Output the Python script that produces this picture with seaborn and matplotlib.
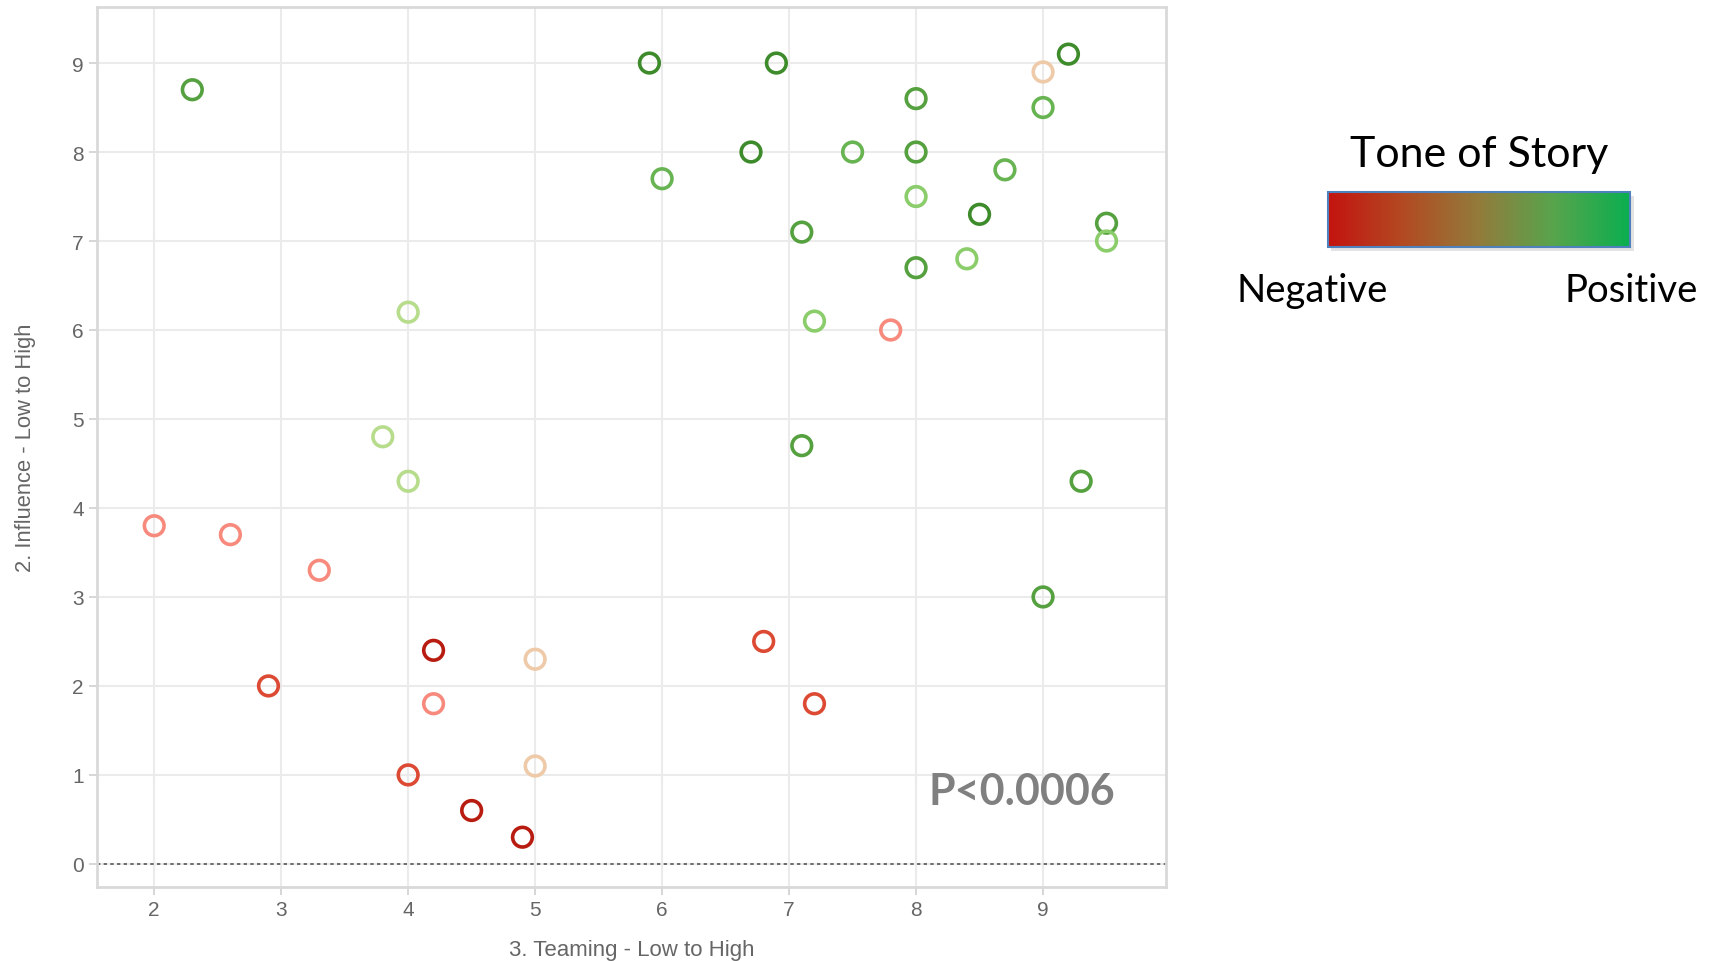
import numpy as np
import pandas as pd
import matplotlib
matplotlib.use("Agg")
import matplotlib.pyplot as plt
import seaborn as sns
from matplotlib.colors import LinearSegmentedColormap
from matplotlib.cm import ScalarMappable
from matplotlib.colors import Normalize

# ---- data ----
teaming = [2.3, 5.9, 6.9, 9.2, 9.0, 8.0, 9.0, 6.7, 7.5, 8.0,
           6.0, 8.7, 8.0, 8.5, 9.5, 9.5, 7.1, 8.0, 8.4, 4.0,
           7.2, 7.8, 3.8, 7.1, 4.0, 9.3, 2.0, 2.6, 3.3, 9.0,
           4.2, 5.0, 6.8, 2.9, 4.2, 7.2, 4.0, 5.0, 4.5, 4.9]
influence = [8.7, 9.0, 9.0, 9.1, 8.9, 8.6, 8.5, 8.0, 8.0, 8.0,
             7.7, 7.8, 7.5, 7.3, 7.2, 7.0, 7.1, 6.7, 6.8, 6.2,
             6.1, 6.0, 4.8, 4.7, 4.3, 4.3, 3.8, 3.7, 3.3, 3.0,
             2.4, 2.3, 2.5, 2.0, 1.8, 1.8, 1.0, 1.1, 0.6, 0.3]
tone = [4, 5, 5, 5, -1, 4, 3, 5, 3, 4,
        3, 3, 2, 5, 4, 2, 4, 4, 2, 1,
        2, -2, 1, 4, 1, 4, -2, -2, -2, 4,
        -4, -1, -3, -3, -2, -3, -3, -1, -4, -4]

tone_levels = [-4, -3, -2, -1, 1, 2, 3, 4, 5]
tone_colors = ["#b81c10", "#dc4a34", "#f78a7c", "#eecaa8", "#b6dc8c",
               "#8acd6a", "#68b452", "#55a03f", "#3e8b2b"]

x_ticks = [2, 3, 4, 5, 6, 7, 8, 9]
y_ticks = [0, 1, 2, 3, 4, 5, 6, 7, 8, 9]

df = pd.DataFrame({"teaming": teaming, "influence": influence, "tone": tone})

sns.set_theme(style="white")
plt.rcParams["font.family"] = ["Liberation Sans", "DejaVu Sans"]

fig = plt.figure(figsize=(17.15, 9.62), dpi=100)
ax = fig.add_axes([0.0566, 0.0769, 0.6234, 0.9148])

ax.axhline(0, color="#555555", linestyle=(0, (2, 2)), linewidth=1.2, zorder=1)

sns.scatterplot(data=df, x="teaming", y="influence", hue="tone",
                palette=dict(zip(tone_levels, tone_colors)),
                hue_order=tone_levels, marker="o", s=200,
                linewidth=2.6, legend=False, ax=ax, zorder=3)
# make hollow markers with coloured edges
coll = ax.collections[-1]
fc = coll.get_facecolors()
coll.set_edgecolors(fc)
coll.set_facecolors("none")

ax.set_xlim(1.55, 9.97)
ax.set_ylim(-0.26, 9.63)
ax.set_xticks(x_ticks)
ax.set_yticks(y_ticks)
ax.grid(True, color="#ebebeb", linewidth=1.5)
ax.set_axisbelow(True)
for sp in ax.spines.values():
    sp.set_color("#d9d9d9")
    sp.set_linewidth(2)
ax.tick_params(axis="both", colors="#d0d0d0", length=6, width=1.2,
               labelcolor="#666666", labelsize=15, direction="out",
               bottom=True, left=True)
ax.set_xlabel("3. Teaming - Low to High", fontsize=16, color="#666666", labelpad=14)
ax.set_ylabel("2. Influence - Low to High", fontsize=15.8, color="#666666", labelpad=26)

ax.text(8.83, 0.82, "P<0.0006", fontsize=31, fontweight="bold", color="#808080",
        ha="center", va="center", family=["Lato", "DejaVu Sans"])

# ---- tone legend ----
grad_colors = ["#c3130f", "#b24a22", "#927b3b", "#57a44c", "#0aae4f"]
cmap = LinearSegmentedColormap.from_list("tone", grad_colors)
shadow_ax = fig.add_axes([1331 / 1715, 1 - 252 / 962, 303 / 1715, 55 / 962])
shadow_ax.set_facecolor("#c8c8c8")
shadow_ax.set_xticks([]); shadow_ax.set_yticks([])
for sp in shadow_ax.spines.values():
    sp.set_visible(False)
shadow_ax.patch.set_alpha(0.5)
cax = fig.add_axes([1328 / 1715, 1 - 248 / 962, 302 / 1715, 55 / 962])
cb = fig.colorbar(ScalarMappable(norm=Normalize(-1, 1), cmap=cmap), cax=cax,
                  orientation="horizontal")
cb.set_ticks([])
cb.outline.set_edgecolor("#4f81bd")
cb.outline.set_linewidth(1.5)

fig.text(1479 / 1715, 1 - 155 / 962, "Tone of Story", fontsize=31, color="black",
         ha="center", va="center", family=["Lato", "DejaVu Sans"])
fig.text(1312 / 1715, 1 - 291 / 962, "Negative", fontsize=27.5, color="black",
         ha="center", va="center", family=["Lato", "DejaVu Sans"])
fig.text(1631 / 1715, 1 - 291 / 962, "Positive", fontsize=27.5, color="black",
         ha="center", va="center", family=["Lato", "DejaVu Sans"])

fig.savefig("out.png", dpi=100)
